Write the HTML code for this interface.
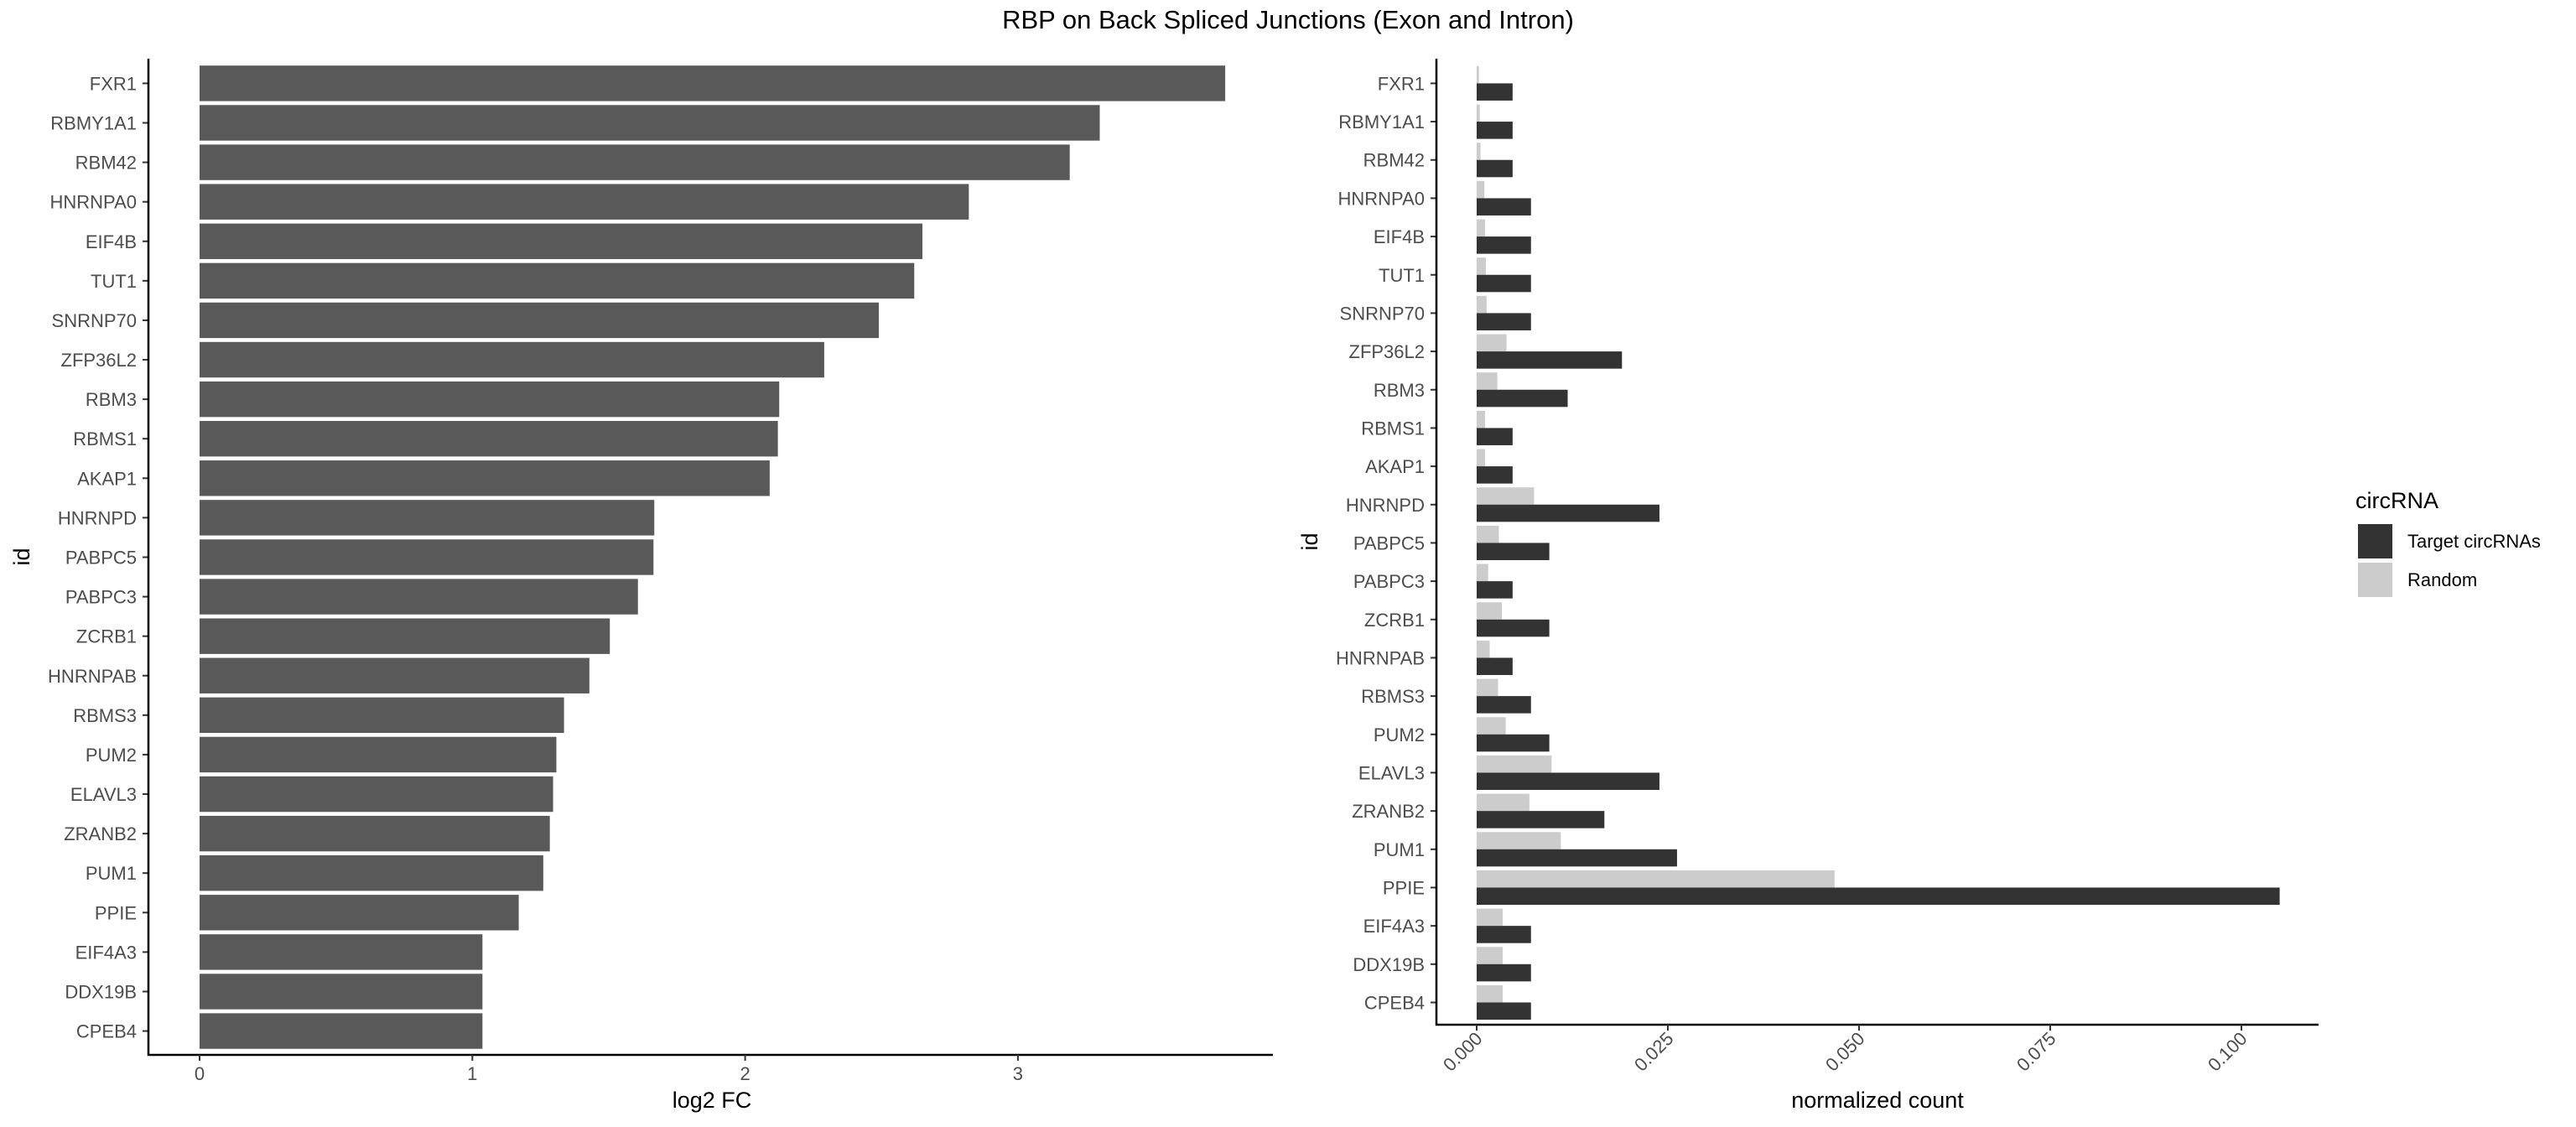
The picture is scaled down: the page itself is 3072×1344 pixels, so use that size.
<!DOCTYPE html>
<html><head><meta charset="utf-8"><style>
body{margin:0;background:#fff}
svg{display:block;font-family:"Liberation Sans",sans-serif}
.tk{font-size:22px;fill:#4d4d4d}
</style></head><body>
<svg id="c" width="3072" height="1344" viewBox="0 0 3072 1344">
<text x="1536" y="34" text-anchor="middle" font-size="31" fill="#000">RBP on Back Spliced Junctions (Exon and Intron)</text>
<g id="left"></g>
<g id="right"></g>
<g>
<text x="2809" y="606" font-size="27">circRNA</text>
<rect x="2812" y="625" width="41" height="41" fill="#333333"/>
<text x="2871" y="653" class="tk" fill="#000" style="fill:#000">Target circRNAs</text>
<rect x="2812" y="671" width="41" height="41" fill="#cccccc"/>
<text x="2871" y="699" class="tk" style="fill:#000">Random</text>
</g>
</svg>
<script>
const categories=["FXR1","RBMY1A1","RBM42","HNRNPA0","EIF4B","TUT1","SNRNP70","ZFP36L2","RBM3","RBMS1","AKAP1","HNRNPD","PABPC5","PABPC3","ZCRB1","HNRNPAB","RBMS3","PUM2","ELAVL3","ZRANB2","PUM1","PPIE","EIF4A3","DDX19B","CPEB4"];
const log2fc=[3.76,3.30,3.19,2.82,2.65,2.62,2.49,2.29,2.125,2.12,2.09,1.667,1.664,1.607,1.504,1.429,1.336,1.308,1.296,1.284,1.26,1.17,1.037,1.037,1.037];
const targetCounts=[0.0047,0.0047,0.0047,0.0071,0.0071,0.0071,0.0071,0.019,0.0119,0.0047,0.0047,0.0239,0.0095,0.0047,0.0095,0.0047,0.0071,0.0095,0.0239,0.0167,0.0262,0.105,0.0071,0.0071,0.0071];
const randomCounts=[0.0003,0.0004,0.0005,0.001,0.0011,0.0012,0.0013,0.0039,0.0027,0.0011,0.0011,0.0075,0.0029,0.0015,0.0033,0.0017,0.0028,0.0038,0.0098,0.0069,0.011,0.0468,0.0034,0.0034,0.0034];
const leftTicks=[0,1,2,3];
const rightTicks=["0.000","0.025","0.050","0.075","0.100"];
const NS="http://www.w3.org/2000/svg";
function mk(p,t,a){const e=document.createElementNS(NS,t);for(const k in a)e.setAttribute(k,a[k]);p.appendChild(e);return e;}
// left panel
const L=document.getElementById('left');
const lx=v=>238+v*325.3, ly=i=>99.4+i*47.09;
categories.forEach((c,i)=>{
 const r=mk(L,'rect',{x:lx(0),y:ly(i)-21.2,width:lx(log2fc[i])-lx(0),height:42.4,fill:'#595959'});
 
 
 const t=mk(L,'text',{x:163,y:ly(i)+8,'text-anchor':'end',class:'tk'});t.textContent=c;
 
 
 mk(L,'line',{x1:170,x2:177,y1:ly(i),y2:ly(i),stroke:'#333','stroke-width':2});
});
mk(L,'line',{x1:177,x2:177,y1:70,y2:1259,stroke:'#000','stroke-width':2.5});
mk(L,'line',{x1:176,x2:1518,y1:1258,y2:1258,stroke:'#000','stroke-width':2.5});
leftTicks.forEach(v=>{
 mk(L,'line',{x1:lx(v),x2:lx(v),y1:1258,y2:1265,stroke:'#333','stroke-width':2});
 const t=mk(L,'text',{x:lx(v),y:1288,'text-anchor':'middle',class:'tk'});t.textContent=v;
 
 
});
let t=mk(L,'text',{x:849,y:1321,'text-anchor':'middle','font-size':27});t.textContent='log2 FC';


t=mk(L,'text',{x:0,y:0,'text-anchor':'middle','font-size':27,transform:'translate(35,664) rotate(-90)'});t.textContent='id';


// right panel
const R=document.getElementById('right');
const rx=v=>1761+v*9120, ry=i=>99.4+i*45.67, bh=20.55;
categories.forEach((c,i)=>{
 const a=mk(R,'rect',{x:rx(0),y:ry(i)-2*bh,width:rx(randomCounts[i])-rx(0),height:bh,fill:'#cccccc'});
 
 
 const b=mk(R,'rect',{x:rx(0),y:ry(i)-bh+bh,width:rx(targetCounts[i])-rx(0),height:bh,fill:'#333333'});
 b.setAttribute('y',ry(i));
 
 
 const t=mk(R,'text',{x:1699,y:ry(i)+8,'text-anchor':'end',class:'tk'});t.textContent=c;
 
 
 mk(R,'line',{x1:1706,x2:1713,y1:ry(i),y2:ry(i),stroke:'#333','stroke-width':2});
});
// fix random bars to sit directly above center
R.querySelectorAll('rect[fill="#cccccc"]').forEach((r,i)=>r.setAttribute('y',ry(i)-bh));
mk(R,'line',{x1:1713,x2:1713,y1:70,y2:1223,stroke:'#000','stroke-width':2.5});
mk(R,'line',{x1:1712,x2:2765,y1:1222,y2:1222,stroke:'#000','stroke-width':2.5});
rightTicks.forEach(s=>{
 const v=parseFloat(s);
 mk(R,'line',{x1:rx(v),x2:rx(v),y1:1222,y2:1229,stroke:'#333','stroke-width':2});
 const t=mk(R,'text',{x:0,y:0,'text-anchor':'end',class:'tk',transform:`translate(${rx(v)+8},${1240}) rotate(-45)`});t.textContent=s;
 
 
});
t=mk(R,'text',{x:2239,y:1321,'text-anchor':'middle','font-size':27});t.textContent='normalized count';


t=mk(R,'text',{x:0,y:0,'text-anchor':'middle','font-size':27,transform:'translate(1571,646) rotate(-90)'});t.textContent='id';


</script>
</body></html>
